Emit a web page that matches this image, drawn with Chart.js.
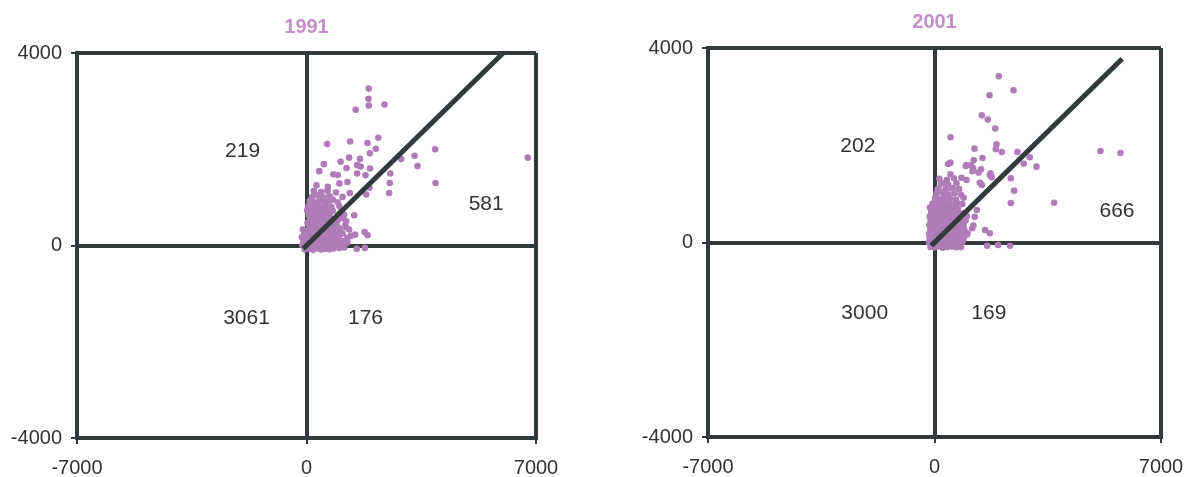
<!DOCTYPE html>
<html>
<head>
<meta charset="utf-8">
<script src="https://cdn.jsdelivr.net/npm/chart.js@4.4.1/dist/chart.umd.min.js"></script>
<style>
  html, body { margin: 0; padding: 0; background: #fff; overflow: hidden; }
  .wrap { position: absolute; top: 0; height: 477px; }
  #w1 { left: 0; width: 592px; }
  #w2 { left: 600px; width: 585px; }
</style>
</head>
<body>
<div class="wrap" id="w1"><canvas id="c1" width="592" height="477"></canvas></div>
<div class="wrap" id="w2"><canvas id="c2" width="585" height="477"></canvas></div>
<script>
// axis ticks (same for both panels)
const xTicks = [-7000, 0, 7000];
const yTicks = [-4000, 0, 4000];

// 1991 - outlying points, read one by one
const outliers1991 = [[1900,3260],[1890,3050],[1900,2910],[2380,2930],[1500,2820],[630,2110],[1330,2160],[1860,2130],
  [2190,2240],[2115,2010],[1930,1915],[1630,1800],[1300,1825],[1040,1740],[530,1690],[390,1545],[1545,1670],[1650,1640],
  [1220,1610],[1940,1600],[1545,1495],[1800,1460],[820,1480],[955,1465],[1250,1320],[1005,1290],[305,1250],[650,1220],
  [1320,1090],[1820,1060],[1920,1200],[245,1060],[480,955],[800,955],[2890,1795],[3295,1865],[3385,1650],[3925,2000],
  [3935,1300],[2555,1495],[2540,1300],[2520,1090],[6750,1825],[1485,225],[1770,280],[1860,215],[1535,-70],[1780,-50],
  [1455,630],[1210,505],[905,435],[1005,300],[650,-50]];
// 1991 - dense cluster near the origin (estimated)
const cluster1991 = [[-60,-80],[80,-70],[200,-90],[330,-60],[450,-85],[560,-70],[700,-80],[820,-60],[1000,-50],
  [-130,10],[-20,20],[100,-10],[220,30],[340,0],[460,20],[580,-10],[690,30],[800,10],[920,40],[1080,20],
  [-90,90],[40,70],[150,100],[270,80],[390,110],[510,70],[630,100],[750,80],[880,110],[1150,90],
  [-140,170],[0,150],[120,180],[240,160],[360,150],[480,190],[600,160],[720,170],[850,150],[980,180],[1250,160],
  [-70,250],[60,230],[180,260],[300,240],[420,230],[540,260],[660,240],[790,250],[920,230],[1060,260],
  [-110,330],[20,310],[140,340],[260,320],[380,330],[500,310],[620,340],[740,320],[870,300],[1010,340],[1300,330],
  [1000,120],[90,390],[210,420],[330,400],[450,390],[570,420],[690,400],[820,410],[960,380],[1180,420],
  [1100,250],[30,470],[160,500],[280,480],[400,470],[520,500],[640,480],[760,460],[900,490],
  [1200,380],[110,550],[240,580],[360,560],[480,550],[600,580],[720,560],[860,540],[1100,570],
  [950,520],[70,630],[200,660],[330,640],[450,620],[570,660],[700,640],[960,630],
  [20,730],[150,710],[280,740],[400,720],[520,700],[650,740],[800,720],
  [60,820],[190,800],[330,840],[460,810],[600,830],[760,800],[1000,820],
  [100,930],[250,900],[400,940],[560,910],[720,930],[950,900],
  [170,1010],[350,1040],[520,1000],[700,1030],[1100,1010],
  [220,1130],[450,1110],[640,1140],[900,1100],
  [1150,-40],[1250,60],[1350,200],[1050,700],[1150,640]];
const diag1991 = [[-100,-67],[6000,4000]];
const counts1991 = ['219', '581', '3061', '176'];
const countAt1991 = [[-1950,1954],[5480,852],[-1830,-1518],[1800,-1518]];

// 2001
const outliers2001 = [[1987,3420],[2441,3132],[1700,3029],[1462,2617],[1647,2527],[1876,2342],[494,2165],[1916,2021],
  [1894,1918],[2080,1862],[1236,1930],[2565,1862],[2945,1753],[2760,1621],[3152,1560],[5130,1883],[5748,1842],
  [1483,1739],[1214,1691],[494,1642],[967,1574],[1122,1588],[1440,1506],[1174,1465],[1360,1436],[1730,1424],
  [494,1403],[834,1333],[989,1286],[1771,1341],[2358,1321],[287,1218],[525,1115],[1400,1230],[1462,1183],
  [2460,1066],[2358,813],[3696,819],[93,1080],[1307,669],[1245,531],[1165,292],[1564,257],[1709,189],
  [1626,-66],[1966,-51],[2336,-66],[1020,189]];
const cluster2001 = [[-120,-90],[0,-100],[130,-80],[260,-110],[400,-90],[540,-80],[680,-100],[820,-90],
  [-170,0],[-50,-20],[80,10],[200,-10],[330,20],[460,0],[590,-20],[720,10],[860,0],
  [-150,90],[-20,70],[110,100],[240,80],[370,90],[500,70],[630,100],[760,80],[900,90],
  [-170,180],[-60,160],[60,190],[190,170],[320,160],[450,190],[580,170],[710,160],[850,180],[1000,160],
  [-130,270],[0,250],[130,280],[260,260],[390,250],[520,280],[650,260],[780,240],[920,270],
  [-160,360],[-30,340],[100,370],[230,350],[360,340],[490,370],[620,350],[750,330],[900,360],[1200,350],
  [-120,450],[20,430],[150,460],[280,440],[410,430],[540,460],[680,440],[820,420],[960,450],
  [-150,540],[-10,520],[120,550],[250,530],[380,520],[510,550],[640,530],[780,510],[1000,540],
  [-100,630],[40,610],[170,640],[300,620],[430,600],[560,640],[700,620],[880,600],
  [-140,720],[0,700],[140,730],[280,710],[420,690],[560,720],[720,700],
  [-60,800],[80,790],[220,820],[380,800],[540,780],[700,810],[860,790],
  [20,910],[160,890],[320,920],[480,900],[660,880],[900,920],
  [60,1000],[250,1020],[430,990],[620,1010],[820,980],
  [120,1110],[340,1090],[560,1120],[760,1100],
  [200,1210],[420,1190],[680,1220],
  [150,1310],[380,1290],[600,1320],
  [420,1615],[990,1595],[1195,1526],[1710,1389]];
const diag2001 = [[-100,-65],[5800,3780]];
const counts2001 = ['202', '666', '3000', '169'];
const countAt2001 = [[-2370,1985],[5640,648],[-2157,-1450],[1678,-1450]];

const INK = '#333a3c';
const DOT = '#b07cb8';
const TITLE = '#c48fc8';
const FONT = '"Liberation Sans", Arial, sans-serif';

const toXY = a => a.map(p => ({x: p[0], y: p[1]}));

function panel(id, title, points, diag, counts, countAt, yWidth, xHeight, pad) {
  const labels = {
    id: 'labels',
    afterDraw(chart) {
      const c = chart.ctx, xs = chart.scales.x, ys = chart.scales.y;
      c.save();
      c.textAlign = 'center';
      c.textBaseline = 'middle';
      c.fillStyle = '#333';
      c.font = '21px ' + FONT;
      counts.forEach((t, i) => c.fillText(t, xs.getPixelForValue(countAt[i][0]), ys.getPixelForValue(countAt[i][1])));
      c.fillStyle = TITLE;
      c.font = 'bold 20px ' + FONT;
      c.fillText(title, xs.getPixelForValue(0), chart.chartArea.top - 26);
      c.restore();
    }
  };
  new Chart(document.getElementById(id), {
    type: 'scatter',
    data: {
      datasets: [
        {type: 'line', data: toXY(diag), borderColor: INK, borderWidth: 5, pointRadius: 0, fill: false, order: 0},
        {data: toXY(points), backgroundColor: DOT, borderWidth: 0, pointRadius: 3.3, order: 1}
      ]
    },
    options: {
      responsive: false,
      animation: false,
      layout: {padding: pad},
      plugins: {legend: {display: false}, tooltip: {enabled: false}},
      scales: {
        x: {
          type: 'linear', min: xTicks[0], max: xTicks[2],
          afterBuildTicks: s => { s.ticks = xTicks.map(v => ({value: v})); },
          afterFit: s => { s.height = xHeight; s.paddingLeft = 0; s.paddingRight = 0; },
          ticks: {color: '#333', font: {family: FONT, size: 20}, padding: 12, maxRotation: 0, autoSkip: false,
            callback: v => String(v)},
          grid: {color: INK, lineWidth: 4, tickLength: 6, tickWidth: 2, tickColor: INK},
          border: {color: INK, width: 4}
        },
        y: {
          min: yTicks[0], max: yTicks[2],
          afterBuildTicks: s => { s.ticks = yTicks.map(v => ({value: v})); },
          afterFit: s => { s.width = yWidth; },
          ticks: {color: '#333', font: {family: FONT, size: 20}, padding: 9, callback: v => String(v)},
          grid: {color: INK, lineWidth: 4, tickLength: 6, tickWidth: 2, tickColor: INK},
          border: {color: INK, width: 4}
        }
      }
    },
    plugins: [labels]
  });
}

panel('c1', '1991', outliers1991.concat(cluster1991), diag1991, counts1991, countAt1991, 77, 39,
  {left: 0, right: 56, top: 53, bottom: 0});
panel('c2', '2001', outliers2001.concat(cluster2001), diag2001, counts2001, countAt2001, 108, 40,
  {left: 0, right: 24, top: 48, bottom: 0});
</script>
</body>
</html>
